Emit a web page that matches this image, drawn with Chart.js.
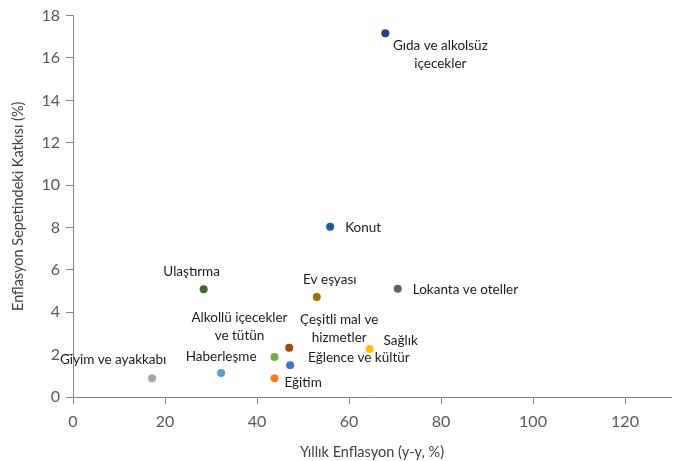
<!DOCTYPE html>
<html>
<head>
<meta charset="utf-8">
<script src="https://cdn.jsdelivr.net/npm/chart.js@4.4.1/dist/chart.umd.min.js"></script>
<style>
  html, body { margin: 0; padding: 0; background: #fff; }
  #wrap { width: 683px; height: 461px; }
</style>
</head>
<body>
<div id="wrap"><canvas id="scatterChart"></canvas></div>
<script>
// Kategoriler ve değerler (yıllık enflasyon, sepetteki katkı)
const categories = [
    ['Gıda ve alkolsüz', 'içecekler'],
    ['Konut'],
    ['Ulaştırma'],
    ['Ev eşyası'],
    ['Lokanta ve oteller'],
    ['Çeşitli mal ve', 'hizmetler'],
    ['Sağlık'],
    ['Alkollü içecekler', 've tütün'],
    ['Eğlence ve kültür'],
    ['Haberleşme'],
    ['Eğitim'],
    ['Giyim ve ayakkabı']
];
const annualInflation = [67.9, 55.9, 28.4, 53.0, 70.6, 47.0, 64.5, 43.8, 47.2, 32.2, 43.8, 17.2];
const basketContribution = [17.17, 8.04, 5.08, 4.72, 5.11, 2.33, 2.26, 1.89, 1.50, 1.13, 0.89, 0.89];
const pointColors = ['#264478', '#255e91', '#43682b', '#997300', '#636363', '#9e480e',
    '#ffc000', '#70ad47', '#4472c4', '#5b9bd5', '#ed7d31', '#a5a5a5'];
const xTicks = [0, 20, 40, 60, 80, 100, 120];
const yTicks = [0, 2, 4, 6, 8, 10, 12, 14, 16, 18];

// etiket yerleşimi: [dx, dy, hizalama] (noktaya göre, px)
const labelPlacement = [
    [55, 12, 'center'],
    [15, 1, 'left'],
    [-12, -18, 'center'],
    [13, -17, 'center'],
    [15, 1, 'left'],
    [50, -28, 'center'],
    [31, -8, 'center'],
    [-35, -39, 'center'],
    [18, -8, 'left'],
    [0, -16, 'center'],
    [10, 4, 'left'],
    [-39, -19, 'center']
];

const axisColor = '#868686';
const tickColor = '#595959';
const titleColor = '#404040';

const pointLabels = {
    id: 'pointLabels',
    afterDatasetsDraw(chart) {
        const ctx = chart.ctx;
        const meta = chart.getDatasetMeta(0);
        ctx.save();
        ctx.font = '13.5px Lato';
        ctx.fillStyle = '#1a1a1a';
        ctx.textBaseline = 'middle';
        meta.data.forEach((pt, i) => {
            const [dx, dy, align] = labelPlacement[i];
            ctx.textAlign = align;
            categories[i].forEach((line, j) => {
                ctx.fillText(line, pt.x + dx, pt.y + dy + j * 18);
            });
        });
        ctx.restore();
    }
};

const data = annualInflation.map((x, i) => ({ x: x, y: basketContribution[i] }));

new Chart(document.getElementById('scatterChart').getContext('2d'), {
    type: 'scatter',
    data: {
        datasets: [{
            label: 'Kategoriler',
            data: data,
            backgroundColor: pointColors,
            borderColor: pointColors,
            borderWidth: 0,
            pointRadius: 4,
            pointHoverRadius: 4
        }]
    },
    options: {
        responsive: true,
        maintainAspectRatio: false,
        animation: false,
        layout: { padding: { top: 13, right: 12, left: 0, bottom: 0 } },
        plugins: {
            legend: { display: false },
            tooltip: { enabled: false }
        },
        scales: {
            x: {
                type: 'linear',
                min: 0,
                max: 130,
                afterBuildTicks: s => { s.ticks = xTicks.map(v => ({ value: v })); },
                afterFit: s => { s.height = 64; },
                grid: { drawOnChartArea: false, color: axisColor, tickLength: 7 },
                border: { color: axisColor },
                ticks: { color: tickColor, font: { family: 'Lato', size: 16 }, padding: 8, maxRotation: 0 },
                title: {
                    display: true,
                    text: 'Yıllık Enflasyon (y-y, %)',
                    color: titleColor,
                    font: { family: 'Lato', size: 14.5 },
                    padding: { top: 7, bottom: 0 }
                }
            },
            y: {
                min: 0,
                max: 18,
                afterBuildTicks: s => { s.ticks = yTicks.map(v => ({ value: v })); },
                afterFit: s => { s.width = 73; },
                grid: { drawOnChartArea: false, color: axisColor, tickLength: 7 },
                border: { color: axisColor },
                ticks: { color: tickColor, font: { family: 'Lato', size: 16 }, padding: 6 },
                title: {
                    display: true,
                    text: 'Enflasyon Sepetindeki Katkısı (%)',
                    color: titleColor,
                    font: { family: 'Lato', size: 14.5 },
                    padding: { top: 10, bottom: 0 }
                }
            }
        }
    },
    plugins: [pointLabels]
});
</script>
</body>
</html>
